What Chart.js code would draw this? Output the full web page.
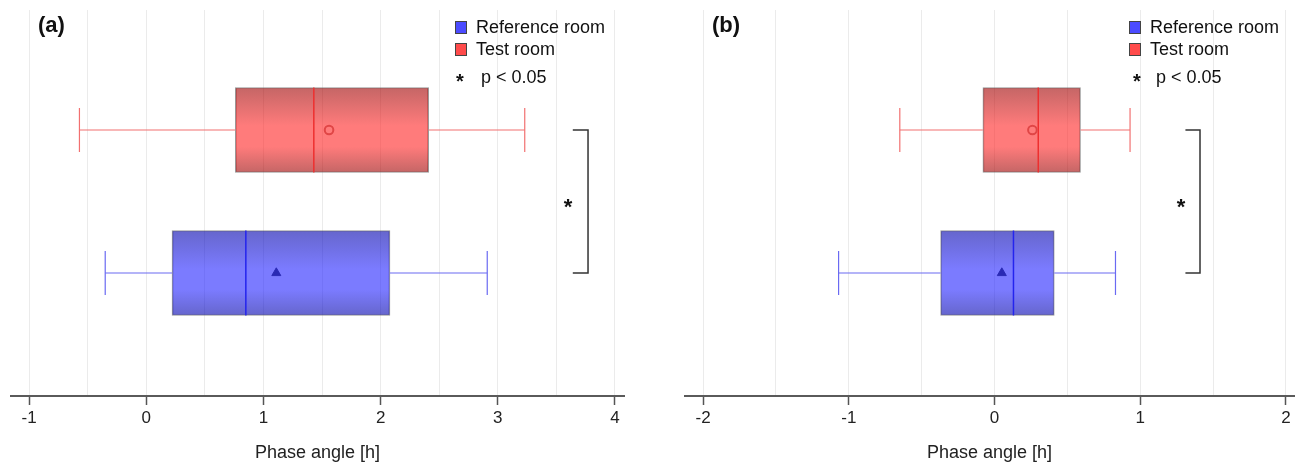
<!DOCTYPE html>
<html>
<head>
<meta charset="utf-8">
<script src="https://cdn.jsdelivr.net/npm/chart.js@4.4.1/dist/chart.umd.min.js"></script>
<style>
  body { margin: 0; background: #fff; font-family: "Liberation Sans", Arial, sans-serif; }
  #wrap { position: relative; width: 1304px; height: 466px; }
  .panel { position: absolute; top: 0; width: 652px; height: 466px; }
  .tag { position: absolute; top: 11px; font-weight: bold; font-size: 22px; line-height: 28px; color: #111; }
  .key { position: absolute; font-size: 18px; line-height: 22px; color: #111; white-space: nowrap; }
  .sw { position: absolute; width: 10px; height: 11px; border: 1px solid #444; }
  .star { position: absolute; font-size: 20px; font-weight: bold; line-height: 22px; color: #111; }
</style>
</head>
<body>
<div id="wrap">
  <div class="panel" style="left:0">
    <canvas id="chartA" width="652" height="466"></canvas>
    <div class="tag" style="left:38px">(a)</div>
    <div class="sw" style="left:455px;top:21px;background:#4b4bff"></div>
    <div class="key" style="left:476px;top:16px">Reference room</div>
    <div class="sw" style="left:455px;top:43px;background:#ff4b4b"></div>
    <div class="key" style="left:476px;top:38px">Test room</div>
    <div class="star" style="left:456px;top:70px">*</div>
    <div class="key" style="left:481px;top:66px">p &lt; 0.05</div>
  </div>
  <div class="panel" style="left:652px">
    <canvas id="chartB" width="652" height="466"></canvas>
    <div class="tag" style="left:60px">(b)</div>
    <div class="sw" style="left:477px;top:21px;background:#4b4bff"></div>
    <div class="key" style="left:498px;top:16px">Reference room</div>
    <div class="sw" style="left:477px;top:43px;background:#ff4b4b"></div>
    <div class="key" style="left:498px;top:38px">Test room</div>
    <div class="star" style="left:481px;top:70px">*</div>
    <div class="key" style="left:504px;top:66px">p &lt; 0.05</div>
  </div>
</div>
<script>
// groups, bottom to top
const groups = ['Reference room', 'Test room'];
const groupPos = [1, 2];

// (a) phase angle [h]
const aWhiskerLow  = [-0.35, -0.57];
const aQ1          = [0.22, 0.76];
const aMedian      = [0.85, 1.43];
const aMean        = [1.11, 1.56];
const aQ3          = [2.08, 2.41];
const aWhiskerHigh = [2.91, 3.23];
const aTicks = [-1, 0, 1, 2, 3, 4];

// (b) phase angle [h]
const bWhiskerLow  = [-1.07, -0.65];
const bQ1          = [-0.37, -0.08];
const bMedian      = [0.13, 0.30];
const bMean        = [0.05, 0.26];
const bQ3          = [0.41, 0.59];
const bWhiskerHigh = [0.83, 0.93];
const bTicks = [-2, -1, 0, 1, 2];

const FONT = '"Liberation Sans", Arial, sans-serif';

const lineCol   = ['#6a6af2', '#f27070'];
const medianCol = ['#2424ee', '#ee3030'];
const boxEdge   = ['rgba(0,0,172,0.6)', 'rgba(160,0,0,0.6)'];
const boxMid    = ['rgba(35,35,255,0.6)', 'rgba(255,35,35,0.6)'];

// grid every half hour between the labelled ticks
function halfSteps(ticks) {
  let out = [];
  for (let i = 0; i < ticks.length; i++) {
    out.push(ticks[i]);
    if (i < ticks.length - 1) out.push((ticks[i] + ticks[i + 1]) / 2);
  }
  return out;
}

const starPlugin = {
  id: 'sigStar',
  afterDatasetsDraw(chart) {
    const s = chart.options.plugins.sigStar;
    if (!s) return;
    const ctx = chart.ctx;
    ctx.save();
    ctx.font = 'bold 22px ' + FONT;
    ctx.fillStyle = '#111';
    ctx.textAlign = 'center';
    ctx.textBaseline = 'middle';
    ctx.fillText('*', chart.scales.x.getPixelForValue(s.x), chart.scales.y.getPixelForValue(1.5) + 6);
    ctx.restore();
  }
};

function makePanel(id, d) {
  let datasets = [];
  for (let i = 0; i < groups.length; i++) {
    let y = groupPos[i];
    datasets.push({
      type: 'line', order: 4, borderColor: lineCol[i], borderWidth: 1.2, pointRadius: 0,
      data: [{x: d.wlo[i], y: y}, {x: d.q1[i], y: y}]
    });
    datasets.push({
      type: 'line', order: 4, borderColor: lineCol[i], borderWidth: 1.2, pointRadius: 0,
      data: [{x: d.q3[i], y: y}, {x: d.whi[i], y: y}]
    });
    datasets.push({
      type: 'scatter', order: 4, pointStyle: 'line', rotation: 90, radius: 22,
      borderColor: lineCol[i], borderWidth: 1.2,
      data: [{x: d.wlo[i], y: y}, {x: d.whi[i], y: y}]
    });
  }
  datasets.push({
    type: 'bar', order: 6, indexAxis: 'y', barThickness: 85,
    data: groupPos.map((y, i) => ({x: [d.q1[i], d.q3[i]], y: y})),
    borderColor: 'rgba(110,110,110,0.7)', borderWidth: 1, borderSkipped: false,
    backgroundColor: (c) => {
      const chart = c.chart;
      const i = c.dataIndex;
      if (!chart.chartArea || c.type !== 'data') return boxMid[i];
      const yc = chart.scales.y.getPixelForValue(groupPos[i]);
      const g = chart.ctx.createLinearGradient(0, yc - 42, 0, yc + 42);
      g.addColorStop(0, boxEdge[i]);
      g.addColorStop(0.45, boxMid[i]);
      g.addColorStop(0.7, boxMid[i]);
      g.addColorStop(1, boxEdge[i]);
      return g;
    }
  });
  datasets.push({
    type: 'scatter', order: 2, pointStyle: 'line', rotation: 90, radius: 42.5,
    borderColor: medianCol, borderWidth: 1.5,
    data: groupPos.map((y, i) => ({x: d.median[i], y: y}))
  });
  datasets.push({
    type: 'scatter', order: 1, pointStyle: ['triangle', 'circle'], radius: [5.2, 4.3],
    backgroundColor: ['#2a2ab4', 'rgba(0,0,0,0)'], borderColor: ['#2a2ab4', '#e04646'], borderWidth: [1, 2],
    data: groupPos.map((y, i) => ({x: d.mean[i], y: y}))
  });
  // significance bracket between the two groups
  datasets.push({
    type: 'line', order: 3, borderColor: '#333', borderWidth: 1.5, pointRadius: 0,
    data: [{x: d.bracket[0], y: 2}, {x: d.bracket[1], y: 2}, {x: d.bracket[1], y: 1}, {x: d.bracket[0], y: 1}]
  });

  const grid = halfSteps(d.ticks);
  return new Chart(document.getElementById(id), {
    type: 'bar',
    data: { datasets: datasets },
    plugins: [starPlugin],
    options: {
      responsive: false,
      animation: false,
      events: [],
      indexAxis: 'y',
      layout: { padding: d.padding, autoPadding: false },
      plugins: { legend: { display: false }, tooltip: { enabled: false }, sigStar: { x: d.star } },
      scales: {
        x: {
          type: 'linear', min: d.range[0], max: d.range[1],
          afterBuildTicks: s => { s.ticks = grid.map(v => ({ value: v })); },
          afterFit: s => { s.height = 70; },
          ticks: {
            autoSkip: false, maxRotation: 0, padding: 3, color: '#222',
            font: { size: 17, family: FONT },
            callback: v => Number.isInteger(v) ? String(v) : ''
          },
          grid: {
            color: '#ebebeb', lineWidth: 1, tickLength: 9, tickWidth: 1.5,
            tickColor: c => (c.tick && Number.isInteger(c.tick.value)) ? '#555' : 'rgba(0,0,0,0)'
          },
          border: { color: '#5a5a5a', width: 2 },
          title: { display: true, text: 'Phase angle [h]', color: '#222', font: { size: 18, family: FONT }, padding: { top: 0, bottom: 2 } }
        },
        y: { type: 'linear', display: false, offset: false, min: 0.14, max: 2.839 }
      }
    }
  });
}

makePanel('chartA', {
  wlo: aWhiskerLow, q1: aQ1, median: aMedian, mean: aMean, q3: aQ3, whi: aWhiskerHigh,
  ticks: aTicks, range: [-1.154, 4.077], padding: { left: 11, right: 28, top: 10, bottom: 0 },
  bracket: [3.64, 3.77], star: 3.60
});
makePanel('chartB', {
  wlo: bWhiskerLow, q1: bQ1, median: bMedian, mean: bMean, q3: bQ3, whi: bWhiskerHigh,
  ticks: bTicks, range: [-2.124, 2.055], padding: { left: 33, right: 10, top: 10, bottom: 0 },
  bracket: [1.31, 1.41], star: 1.28
});
</script>
</body>
</html>
